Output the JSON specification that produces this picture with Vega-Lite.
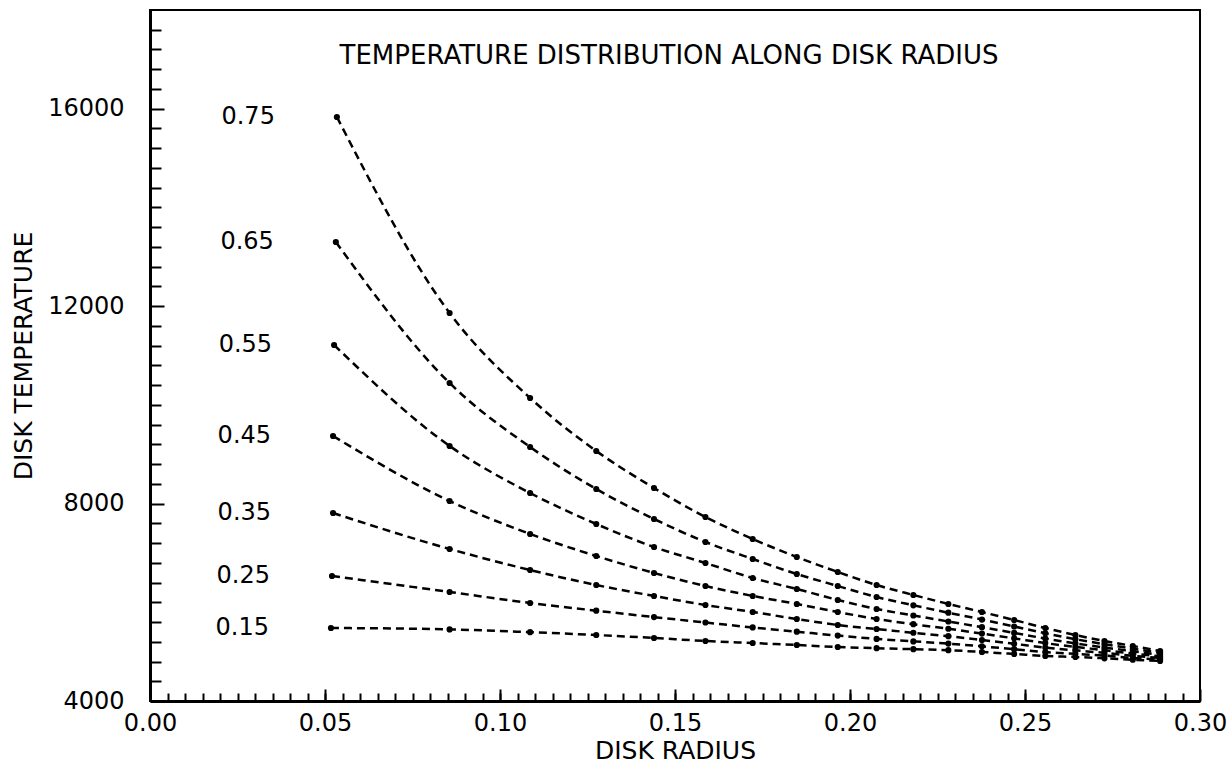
{
  "$schema": "https://vega.github.io/schema/vega-lite/v6.json",
  "width": 1050,
  "height": 691,
  "autosize": "none",
  "padding": {"left": 150, "top": 10, "right": 28, "bottom": 62},
  "background": "white",
  "config": {
    "view": {"stroke": "black", "strokeWidth": 2},
    "font": "DejaVu Sans",
    "axis": {"grid": false, "domainColor": "black", "tickColor": "black", "labelColor": "black", "titleColor": "black", "labelFont": "DejaVu Sans", "titleFont": "DejaVu Sans", "titleFontWeight": "normal", "labelFlush": false, "labelOverlap": false}
  },
  "title": {"text": "TEMPERATURE DISTRIBUTION ALONG DISK RADIUS", "orient": "top", "anchor": "middle", "frame": "group", "offset": -72, "baseline": "middle", "fontSize": 26, "font": "DejaVu Sans", "fontWeight": "normal", "color": "black", "dx": -6},
  "data": {"values": [
    {"series": "0.75", "r": 0.0534, "t": 15832}, {"series": "0.75", "r": 0.0856, "t": 11861}, {"series": "0.75", "r": 0.1086, "t": 10139}, {"series": "0.75", "r": 0.1275, "t": 9065}, {"series": "0.75", "r": 0.1440, "t": 8316}, {"series": "0.75", "r": 0.1587, "t": 7728}, {"series": "0.75", "r": 0.1722, "t": 7282}, {"series": "0.75", "r": 0.1848, "t": 6918}, {"series": "0.75", "r": 0.1965, "t": 6614}, {"series": "0.75", "r": 0.2076, "t": 6350}, {"series": "0.75", "r": 0.2181, "t": 6148}, {"series": "0.75", "r": 0.2281, "t": 5966}, {"series": "0.75", "r": 0.2377, "t": 5803}, {"series": "0.75", "r": 0.2469, "t": 5641}, {"series": "0.75", "r": 0.2558, "t": 5479}, {"series": "0.75", "r": 0.2644, "t": 5337}, {"series": "0.75", "r": 0.2727, "t": 5216}, {"series": "0.75", "r": 0.2808, "t": 5115}, {"series": "0.75", "r": 0.2886, "t": 5013},
    {"series": "0.65", "r": 0.0531, "t": 13300}, {"series": "0.65", "r": 0.0856, "t": 10443}, {"series": "0.65", "r": 0.1086, "t": 9146}, {"series": "0.65", "r": 0.1275, "t": 8295}, {"series": "0.65", "r": 0.1440, "t": 7688}, {"series": "0.65", "r": 0.1587, "t": 7222}, {"series": "0.65", "r": 0.1722, "t": 6877}, {"series": "0.65", "r": 0.1848, "t": 6573}, {"series": "0.65", "r": 0.1965, "t": 6330}, {"series": "0.65", "r": 0.2076, "t": 6107}, {"series": "0.65", "r": 0.2181, "t": 5939}, {"series": "0.65", "r": 0.2281, "t": 5789}, {"series": "0.65", "r": 0.2377, "t": 5650}, {"series": "0.65", "r": 0.2469, "t": 5510}, {"series": "0.65", "r": 0.2558, "t": 5372}, {"series": "0.65", "r": 0.2644, "t": 5252}, {"series": "0.65", "r": 0.2727, "t": 5151}, {"series": "0.65", "r": 0.2808, "t": 5060}, {"series": "0.65", "r": 0.2886, "t": 4975},
    {"series": "0.55", "r": 0.0526, "t": 11213}, {"series": "0.55", "r": 0.0856, "t": 9167}, {"series": "0.55", "r": 0.1086, "t": 8214}, {"series": "0.55", "r": 0.1275, "t": 7586}, {"series": "0.55", "r": 0.1440, "t": 7120}, {"series": "0.55", "r": 0.1587, "t": 6796}, {"series": "0.55", "r": 0.1722, "t": 6492}, {"series": "0.55", "r": 0.1848, "t": 6269}, {"series": "0.55", "r": 0.1965, "t": 6047}, {"series": "0.55", "r": 0.2076, "t": 5864}, {"series": "0.55", "r": 0.2181, "t": 5733}, {"series": "0.55", "r": 0.2281, "t": 5611}, {"series": "0.55", "r": 0.2377, "t": 5496}, {"series": "0.55", "r": 0.2469, "t": 5380}, {"series": "0.55", "r": 0.2558, "t": 5265}, {"series": "0.55", "r": 0.2644, "t": 5167}, {"series": "0.55", "r": 0.2727, "t": 5084}, {"series": "0.55", "r": 0.2808, "t": 5007}, {"series": "0.55", "r": 0.2886, "t": 4936},
    {"series": "0.45", "r": 0.0523, "t": 9369}, {"series": "0.45", "r": 0.0856, "t": 8052}, {"series": "0.45", "r": 0.1086, "t": 7384}, {"series": "0.45", "r": 0.1275, "t": 6938}, {"series": "0.45", "r": 0.1440, "t": 6594}, {"series": "0.45", "r": 0.1587, "t": 6330}, {"series": "0.45", "r": 0.1722, "t": 6128}, {"series": "0.45", "r": 0.1848, "t": 5966}, {"series": "0.45", "r": 0.1965, "t": 5803}, {"series": "0.45", "r": 0.2076, "t": 5662}, {"series": "0.45", "r": 0.2181, "t": 5556}, {"series": "0.45", "r": 0.2281, "t": 5463}, {"series": "0.45", "r": 0.2377, "t": 5366}, {"series": "0.45", "r": 0.2469, "t": 5269}, {"series": "0.45", "r": 0.2558, "t": 5173}, {"series": "0.45", "r": 0.2644, "t": 5096}, {"series": "0.45", "r": 0.2727, "t": 5030}, {"series": "0.45", "r": 0.2808, "t": 4961}, {"series": "0.45", "r": 0.2886, "t": 4904},
    {"series": "0.35", "r": 0.0523, "t": 7809}, {"series": "0.35", "r": 0.0856, "t": 7080}, {"series": "0.35", "r": 0.1086, "t": 6654}, {"series": "0.35", "r": 0.1275, "t": 6350}, {"series": "0.35", "r": 0.1440, "t": 6128}, {"series": "0.35", "r": 0.1587, "t": 5945}, {"series": "0.35", "r": 0.1722, "t": 5803}, {"series": "0.35", "r": 0.1848, "t": 5662}, {"series": "0.35", "r": 0.1965, "t": 5540}, {"series": "0.35", "r": 0.2076, "t": 5459}, {"series": "0.35", "r": 0.2181, "t": 5382}, {"series": "0.35", "r": 0.2281, "t": 5313}, {"series": "0.35", "r": 0.2377, "t": 5236}, {"series": "0.35", "r": 0.2469, "t": 5159}, {"series": "0.35", "r": 0.2558, "t": 5082}, {"series": "0.35", "r": 0.2644, "t": 5026}, {"series": "0.35", "r": 0.2727, "t": 4975}, {"series": "0.35", "r": 0.2808, "t": 4916}, {"series": "0.35", "r": 0.2886, "t": 4872},
    {"series": "0.25", "r": 0.0520, "t": 6533}, {"series": "0.25", "r": 0.0856, "t": 6209}, {"series": "0.25", "r": 0.1086, "t": 5986}, {"series": "0.25", "r": 0.1275, "t": 5830}, {"series": "0.25", "r": 0.1440, "t": 5700}, {"series": "0.25", "r": 0.1587, "t": 5590}, {"series": "0.25", "r": 0.1722, "t": 5490}, {"series": "0.25", "r": 0.1848, "t": 5405}, {"series": "0.25", "r": 0.1965, "t": 5325}, {"series": "0.25", "r": 0.2076, "t": 5258}, {"series": "0.25", "r": 0.2181, "t": 5208}, {"series": "0.25", "r": 0.2281, "t": 5163}, {"series": "0.25", "r": 0.2377, "t": 5107}, {"series": "0.25", "r": 0.2469, "t": 5050}, {"series": "0.25", "r": 0.2558, "t": 4991}, {"series": "0.25", "r": 0.2644, "t": 4955}, {"series": "0.25", "r": 0.2727, "t": 4920}, {"series": "0.25", "r": 0.2808, "t": 4872}, {"series": "0.25", "r": 0.2886, "t": 4839},
    {"series": "0.15", "r": 0.0517, "t": 5479}, {"series": "0.15", "r": 0.0856, "t": 5450}, {"series": "0.15", "r": 0.1086, "t": 5395}, {"series": "0.15", "r": 0.1275, "t": 5337}, {"series": "0.15", "r": 0.1440, "t": 5277}, {"series": "0.15", "r": 0.1587, "t": 5216}, {"series": "0.15", "r": 0.1722, "t": 5175}, {"series": "0.15", "r": 0.1848, "t": 5135}, {"series": "0.15", "r": 0.1965, "t": 5094}, {"series": "0.15", "r": 0.2076, "t": 5070}, {"series": "0.15", "r": 0.2181, "t": 5050}, {"series": "0.15", "r": 0.2281, "t": 5030}, {"series": "0.15", "r": 0.2377, "t": 4993}, {"series": "0.15", "r": 0.2469, "t": 4953}, {"series": "0.15", "r": 0.2558, "t": 4912}, {"series": "0.15", "r": 0.2644, "t": 4892}, {"series": "0.15", "r": 0.2727, "t": 4865}, {"series": "0.15", "r": 0.2808, "t": 4835}, {"series": "0.15", "r": 0.2886, "t": 4811}
  ]},
  "resolve": {"axis": {"x": "independent", "y": "independent"}},
  "layer": [
    {
      "mark": {"type": "line", "color": "black", "strokeWidth": 2.5, "strokeDash": [8, 5], "interpolate": "monotone"},
      "encoding": {
        "x": {"field": "r", "type": "quantitative", "scale": {"domain": [0, 0.3], "nice": false, "zero": false},
          "axis": {"orient": "bottom", "values": [0, 0.05, 0.1, 0.15, 0.2, 0.25, 0.3], "format": ".2f", "labelFontSize": 24, "labelDx": -7, "tickSize": -12, "tickWidth": 2, "labelPadding": 22, "domainWidth": 3, "title": "DISK RADIUS", "titleFontSize": 25, "titlePadding": 3}},
        "y": {"field": "t", "type": "quantitative", "scale": {"domain": [4000, 18000], "nice": false, "zero": false},
          "axis": {"orient": "left", "values": [4000, 8000, 12000, 16000], "format": "d", "labelFontSize": 24, "tickSize": -14, "tickWidth": 2, "labelPadding": 40, "domainWidth": 3, "title": "DISK TEMPERATURE", "titleFontSize": 25, "titlePadding": 11}},
        "detail": {"field": "series"}
      }
    },
    {
      "mark": {"type": "point", "filled": true, "color": "black", "size": 38, "opacity": 1},
      "encoding": {
        "x": {"field": "r", "type": "quantitative",
          "axis": {"orient": "bottom", "values": [0, 0.005, 0.01, 0.015, 0.02, 0.025, 0.03, 0.035, 0.04, 0.045, 0.05, 0.055, 0.06, 0.065, 0.07, 0.075, 0.08, 0.085, 0.09, 0.095, 0.1, 0.105, 0.11, 0.115, 0.12, 0.125, 0.13, 0.135, 0.14, 0.145, 0.15, 0.155, 0.16, 0.165, 0.17, 0.175, 0.18, 0.185, 0.19, 0.195, 0.2, 0.205, 0.21, 0.215, 0.22, 0.225, 0.23, 0.235, 0.24, 0.245, 0.25, 0.255, 0.26, 0.265, 0.27, 0.275, 0.28, 0.285, 0.29, 0.295], "labels": false, "domain": false, "tickSize": -8, "tickWidth": 2, "title": null}},
        "y": {"field": "t", "type": "quantitative",
          "axis": {"orient": "left", "values": [4400, 4800, 5200, 5600, 6000, 6400, 6800, 7200, 7600, 8400, 8800, 9200, 9600, 10000, 10400, 10800, 11200, 11600, 12400, 12800, 13200, 13600, 14000, 14400, 14800, 15200, 15600, 16400, 16800, 17200, 17600], "labels": false, "domain": false, "tickSize": -11, "tickWidth": 2, "title": null}}
      }
    },
    {
      "transform": [
        {"joinaggregate": [{"op": "min", "field": "r", "as": "rmin"}], "groupby": ["series"]},
        {"filter": "datum.r === datum.rmin"}
      ],
      "mark": {"type": "text", "align": "right", "baseline": "middle", "dx": -62, "fontSize": 24, "font": "DejaVu Sans", "color": "black"},
      "encoding": {
        "x": {"field": "r", "type": "quantitative", "axis": null},
        "y": {"field": "t", "type": "quantitative", "axis": null},
        "text": {"field": "series"}
      }
    }
  ]
}
